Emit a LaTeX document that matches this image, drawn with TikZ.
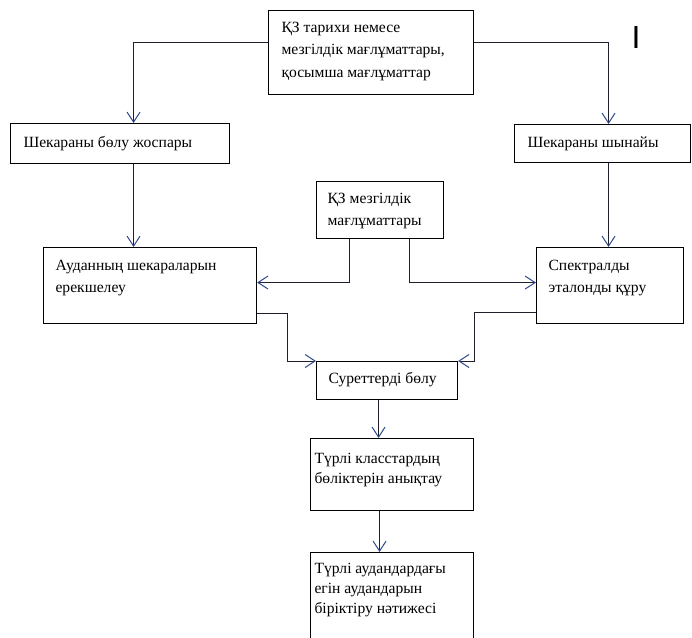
\documentclass[tikz,border=0pt]{standalone}
\usepackage{fontspec}
\setmainfont{Liberation Serif}
\newfontfamily\marksans{Liberation Sans}
\usetikzlibrary{arrows.meta}
\definecolor{tipcol}{rgb}{0.18,0.29,0.55}
\definecolor{linecol}{rgb}{0.12,0.12,0.18}
\newcommand{\blktext}[3]{\parbox[t][#2][t]{#1}{\raggedright\strut#3}}
\begin{document}
\begin{tikzpicture}[x=1pt,y=-1pt,
  blk/.style={draw,rectangle,line width=1.1pt,anchor=north west,inner sep=0pt,font=\fontsize{15.6}{22.5}\selectfont},
  conn/.style={draw=linecol,line width=1pt,-{Straight Barb[length=10pt,width=13pt,color=tipcol]}}]
  \useasboundingbox (0,0) rectangle (692,637);
  %%
  \node (hist) at (268,10) [blk,inner xsep=13pt,inner ysep=6pt] {\blktext{179pt}{72pt}{ҚЗ тарихи немесе\\мезгілдік мағлұматтары,\\қосымша мағлұматтар}};
  \node (plan) at (10,123) [blk,inner xsep=13pt,inner ysep=8pt] {\blktext{193pt}{24pt}{Шекараны бөлу жоспары}};
  \node (real) at (514,124) [blk,inner xsep=13pt,inner ysep=7pt] {\blktext{150pt}{24pt}{Шекараны шынайы}};
  \node (season) at (316,181) [blk,inner xsep=11pt,inner ysep=6pt] {\blktext{105pt}{45pt}{ҚЗ мезгілдік\\мағлұматтары}};
  \node (area) at (43,247) [blk,inner xsep=12pt,inner ysep=7pt] {\blktext{189pt}{62pt}{Ауданның шекараларын\\ерекшелеу}};
  \node (spec) at (536,247) [blk,inner xsep=12pt,inner ysep=7pt] {\blktext{123pt}{62pt}{Спектралды\\эталонды құру}};
  \node (split) at (316,361) [blk,inner xsep=12pt,inner ysep=6.5pt] {\blktext{117pt}{25pt}{Суреттерді бөлу}};
  \node (cls) at (310,438) [blk,inner xsep=4pt,inner ysep=11pt,font=\fontsize{15.6}{20}\selectfont] {\blktext{155pt}{50pt}{Түрлі класстардың\\бөліктерін анықтау}};
  \node (res) at (310,552) [blk,inner xsep=4pt,inner ysep=7pt,font=\fontsize{15.6}{20}\selectfont] {\blktext{155pt}{94pt}{Түрлі аудандардағы\\егін аудандарын\\біріктіру нәтижесі}};
  \node (mark) at (636,37) [inner sep=0pt,font=\marksans\fontsize{32}{32}\selectfont] {I};
  %
  \draw [conn] ([yshift=10pt]hist.west) -| ([xshift=13.5pt]plan.north);
  \draw [conn] ([yshift=10pt]hist.east) -| ([xshift=6pt]real.north);
  \draw [conn] ([xshift=13.5pt]plan.south) -- ([xshift=13.5pt]plan.south |- area.north);
  \draw [conn] ([xshift=6pt]real.south) -- ([xshift=6pt]real.south |- spec.north);
  \draw [conn] ([xshift=-30.5pt]season.south) |- ([yshift=3pt]area.east);
  \draw [conn] ([xshift=29.5pt]season.south) |- ([yshift=3pt]spec.west);
  \draw [conn] ([yshift=-28pt]area.east) -- ++(30,0) |- (split.north west);
  \draw [conn] ([yshift=-27pt]spec.west) -- ++(-62,0) |- (split.north east);
  \draw [conn] ([xshift=-8.5pt]split.south) -- ([xshift=-8.5pt]split.south |- cls.north);
  \draw [conn] ([xshift=-12.5pt]cls.south) -- ([xshift=-12.5pt]cls.south |- res.north);
  %
\end{tikzpicture}
\end{document}
